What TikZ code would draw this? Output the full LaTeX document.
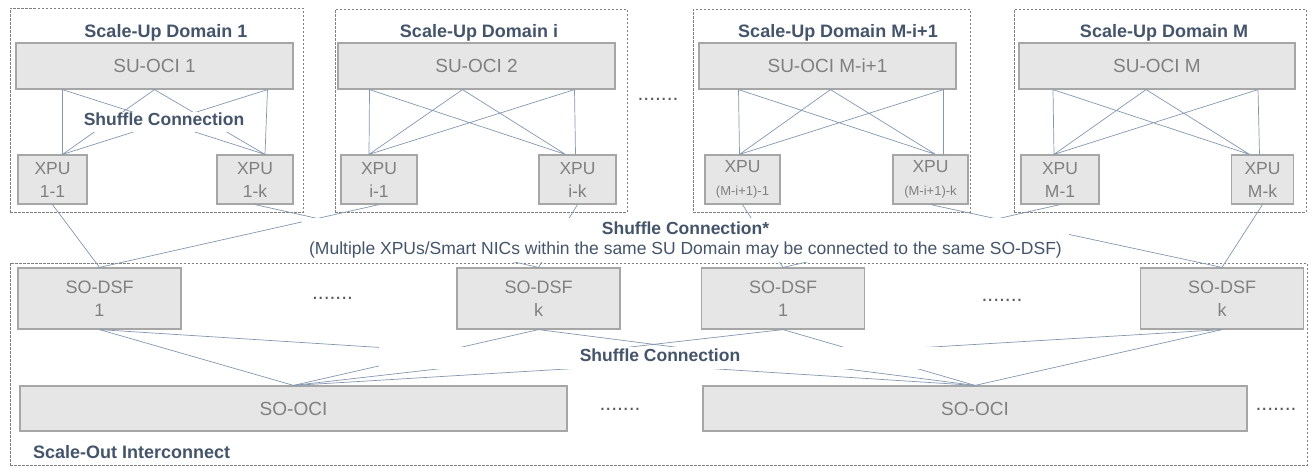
\documentclass[tikz,border=0pt]{standalone}
\usepackage{fontspec}
\setmainfont{Liberation Sans}
\usetikzlibrary{positioning}
\definecolor{navytext}{HTML}{44546A}
\definecolor{boxtext}{HTML}{808080}
\definecolor{boxfill}{HTML}{E6E6E6}
\definecolor{boxline}{HTML}{A6A6A6}
\definecolor{wireblue}{HTML}{8497B0}
\definecolor{dashgray}{HTML}{7F7F7F}
\definecolor{dotgray}{HTML}{595959}

\begin{document}
\begin{tikzpicture}[x=1pt, y=-1pt]
  % Styles
  \tikzstyle{dombox}=[rectangle, draw=dashgray, dash pattern=on 2.5pt off 1.5pt, line width=0.8pt, inner sep=0pt]
  \tikzstyle{domtitle}=[font=\fontsize{18}{21}\selectfont\bfseries, text=navytext, inner sep=0pt]
  \tikzstyle{ocibox}=[rectangle, draw=boxline, fill=boxfill, line width=1.2pt, text=boxtext, inner sep=0pt, minimum height=46pt, font=\fontsize{19}{22}\selectfont]
  \tikzstyle{xpubox}=[ocibox, minimum height=49pt, align=center, font=\fontsize{17.5}{23}\selectfont]
  \tikzstyle{dsfbox}=[ocibox, minimum width=163pt, minimum height=61pt, align=center, font=\fontsize{18}{23.5}\selectfont]
  \tikzstyle{wire}=[draw=wireblue, line width=0.7pt]
  \tikzstyle{shufflelabel}=[fill=white, text=navytext, inner xsep=0pt, inner ysep=1pt, font=\fontsize{17.5}{20}\selectfont\bfseries]
  \tikzstyle{ellip}=[text=dotgray, inner sep=0pt, anchor=base, font=\fontsize{21}{21}\selectfont]

  \useasboundingbox (0,0) rectangle (1314,466);

  % Scale-up domains
  \node[dombox, minimum width=293pt, minimum height=204pt] (dom1) at (156.5,110) {};
  \node[dombox, minimum width=292pt, minimum height=203pt] (domi) at (481,110.5) {};
  \node[dombox, minimum width=277pt, minimum height=203pt] (domMi) at (831.5,110.5) {};
  \node[dombox, minimum width=292pt, minimum height=203pt] (domM) at (1160,110.5) {};

  \node[domtitle, anchor=base] (title1) at (166,37) {Scale-Up Domain 1};
  \node[domtitle, anchor=base] (titlei) at (479,37) {Scale-Up Domain i};
  \node[domtitle, anchor=base] (titleMi) at (838,37) {Scale-Up Domain M-i+1};
  \node[domtitle, anchor=base] (titleM) at (1164,37) {Scale-Up Domain M};

  % SU-OCI switches
  \node[ocibox, minimum width=277pt] (su1) at (154.5,66) {SU-OCI 1};
  \node[ocibox, minimum width=277pt] (sui) at (476.5,66) {SU-OCI 2};
  \node[ocibox, minimum width=257pt] (suMi) at (827.5,66) {SU-OCI M-i+1};
  \node[ocibox, minimum width=276pt] (suM) at (1157,66) {SU-OCI M};

  % XPUs
  \node[xpubox, minimum width=69pt] (x11) at (52.5,179.5) {XPU\\1-1};
  \node[xpubox, minimum width=76pt] (x1k) at (255,179.5) {XPU\\1-k};
  \node[xpubox, minimum width=76pt] (xi1) at (379,179.5) {XPU\\i-1};
  \node[xpubox, minimum width=77pt] (xik) at (577.5,179.5) {XPU\\i-k};
  \node[xpubox, minimum width=75pt] (xMi1) at (742.5,179.5) {XPU\\{\fontsize{13}{23}\selectfont (M-i+1)-1}};
  \node[xpubox, minimum width=75pt] (xMik) at (930.5,179.5) {XPU\\{\fontsize{13}{23}\selectfont (M-i+1)-k}};
  \node[xpubox, minimum width=78pt] (xM1) at (1060,179.5) {XPU\\M-1};
  \node[xpubox, minimum width=62pt] (xMk) at (1262.5,179.5) {XPU\\M-k};

  % Shuffle inside each domain
  \draw[wire] ([xshift=-92pt]su1.south) -- ([xshift=10pt]x11.north)
    ([xshift=-92pt]su1.south) -- ([xshift=10pt]x1k.north)
    (su1.south) -- ([xshift=10pt]x11.north)
    (su1.south) -- ([xshift=10pt]x1k.north)
    ([xshift=113pt]su1.south) -- ([xshift=10pt]x11.north)
    ([xshift=113pt]su1.south) -- ([xshift=10pt]x1k.north);
  \draw[wire] ([xshift=-107pt]sui.south) -- ([xshift=-10pt]xi1.north)
    ([xshift=-107pt]sui.south) -- ([xshift=-12pt]xik.north)
    ([xshift=-14pt]sui.south) -- ([xshift=-10pt]xi1.north)
    ([xshift=-14pt]sui.south) -- ([xshift=-12pt]xik.north)
    ([xshift=98pt]sui.south) -- ([xshift=-10pt]xi1.north)
    ([xshift=98pt]sui.south) -- ([xshift=-2pt]xik.north);
  \draw[wire] ([xshift=-89pt]suMi.south) -- ([xshift=-3pt]xMi1.north)
    ([xshift=-89pt]suMi.south) -- ([xshift=5pt]xMik.north)
    ([xshift=3pt]suMi.south) -- ([xshift=-3pt]xMi1.north)
    ([xshift=3pt]suMi.south) -- ([xshift=5pt]xMik.north)
    ([xshift=116pt]suMi.south) -- ([xshift=-3pt]xMi1.north)
    ([xshift=116pt]suMi.south) -- ([xshift=13pt]xMik.north);
  \draw[wire] ([xshift=-104pt]suM.south) -- ([xshift=-6pt]xM1.north)
    ([xshift=-104pt]suM.south) -- ([xshift=-13pt]xMk.north)
    ([xshift=-11pt]suM.south) -- ([xshift=-6pt]xM1.north)
    ([xshift=-11pt]suM.south) -- ([xshift=-13pt]xMk.north)
    ([xshift=101pt]suM.south) -- ([xshift=-6pt]xM1.north)
    ([xshift=101pt]suM.south) -- ([xshift=-3pt]xMk.north);

  % Scale-out interconnect
  \node[dombox, minimum width=1297pt, minimum height=202pt] (scaleout) at (658.5,364) {};
  \node[domtitle, anchor=base west] (sotitle) at (33,458) {Scale-Out Interconnect};

  \node[dsfbox] (dsf1a) at (99.5,298.5) {SO-DSF\\1};
  \node[dsfbox] (dsfka) at (538.5,298.5) {SO-DSF\\k};
  \node[dsfbox] (dsf1b) at (783,298.5) {SO-DSF\\1};
  \node[dsfbox] (dsfkb) at (1222,298.5) {SO-DSF\\k};

  \node[ocibox, minimum width=547pt, minimum height=45pt] (soci1) at (293.5,408.5) {SO-OCI};
  \node[ocibox, minimum width=544pt, minimum height=45pt] (soci2) at (975,408.5) {SO-OCI};

  % XPUs to SO-DSF
  \draw[wire] (x11.south) -- (dsf1a.north);
  \draw[wire] (xi1.south) -- (dsf1a.north);
  \draw[wire] (x1k.south) -- (dsfka.north);
  \draw[wire] (xik.south) -- (dsfka.north);
  \draw[wire] (xMi1.south) -- (dsf1b.north);
  \draw[wire] (xM1.south) -- (dsf1b.north);
  \draw[wire] (xMik.south) -- (dsfkb.north);
  \draw[wire] (xMk.south) -- (dsfkb.north);

  % SO-DSF to SO-OCI
  \draw[wire] (dsf1a.south) -- (soci1.north);
  \draw[wire] (dsf1a.south) -- (soci2.north);
  \draw[wire] (dsfka.south) -- (soci1.north);
  \draw[wire] (dsfka.south) -- (soci2.north);
  \draw[wire] (dsf1b.south) -- (soci1.north);
  \draw[wire] (dsf1b.south) -- (soci2.north);
  \draw[wire] (dsfkb.south) -- (soci1.north);
  \draw[wire] (dsfkb.south) -- (soci2.north);

  % Shuffle labels
  \node[shufflelabel, minimum width=200pt, text height=12pt, text depth=6pt] (shuf1) at (164,122) {Shuffle Connection};
  \node[shufflelabel, minimum width=767pt, minimum height=44pt, align=center] (shufso) at (685.5,240)
    {Shuffle Connection*\\{\mdseries (Multiple XPUs/Smart NICs within the same SU Domain may be connected to the same SO-DSF)}};
  \node[shufflelabel, minimum width=562pt, text height=13pt, text depth=7pt] (shufoci) at (660,358) {Shuffle Connection};

  % Ellipses
  \node[ellip] (dotsdom) at (658,100.5) {.......};
  \node[ellip] (dotsdsfa) at (332.5,299) {.......};
  \node[ellip] (dotsdsfb) at (1002,301.5) {.......};
  \node[ellip] (dotsoci1) at (620,410.5) {.......};
  \node[ellip] (dotsoci2) at (1276,410.5) {.......};
\end{tikzpicture}
\end{document}
